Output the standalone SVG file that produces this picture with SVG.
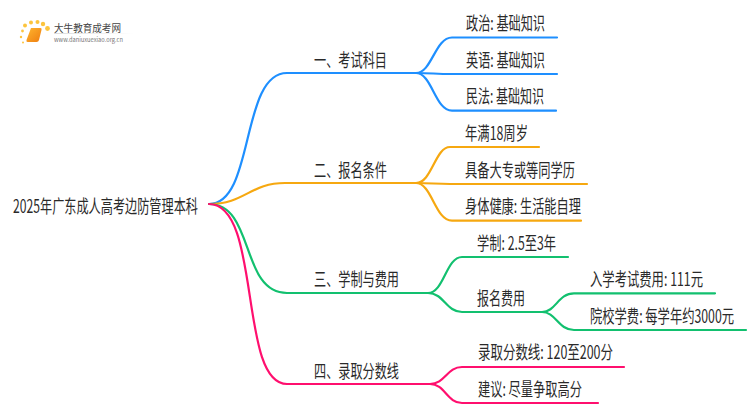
<svg xmlns="http://www.w3.org/2000/svg" width="750" height="410" viewBox="0 0 750 410">
<style>
text{font-family:"Noto Sans CJK SC","Noto Sans",sans-serif;font-size:18px;fill:#2a2a2a;}
.c{fill:none;stroke-width:2.2;stroke-linecap:round}
.b{stroke:#1e8fff}.o{stroke:#f6a810}.g{stroke:#12c06f}.p{stroke:#ff0f6e}
</style>
<defs><linearGradient id="bk" x1="0" y1="0" x2="1" y2="1"><stop offset="0" stop-color="#ffb52e"/><stop offset="1" stop-color="#ee7d10"/></linearGradient>
<linearGradient id="ul" x1="0" y1="0" x2="1" y2="0"><stop offset="0" stop-color="#ddd"/><stop offset="1" stop-color="#fff"/></linearGradient></defs>
<rect width="750" height="410" fill="#fff"/>
<g id="logo">
<g fill="#fcc43d"><circle cx="25" cy="25.500" r="2"/><circle cx="31" cy="22.500" r="2"/><circle cx="37.500" cy="22" r="2"/><circle cx="43" cy="24" r="2.200"/><circle cx="47.500" cy="28.500" r="2.400"/><circle cx="22.500" cy="31" r="1.400"/><circle cx="21" cy="37" r="1.200"/><circle cx="23" cy="42.500" r="1"/></g>
<path d="M31 28h9.500q1.500 0 1 2l-2.500 10q-.5 2-2.500 2h-9q-1.500 0-1-2z" fill="url(#bk)"/>
<text x="54" y="31.500" textLength="67" lengthAdjust="spacingAndGlyphs" style="font-size:10px;fill:#444">大牛教育成考网</text>
<rect x="54" y="33" width="80" height="1" fill="url(#ul)"/>
<text x="54" y="41.500" textLength="69" lengthAdjust="spacingAndGlyphs" style="font-size:6px;fill:#777">www.daniuxuexiao.org.cn</text>
</g>
<g id="connectors">
<path class="c b" d="M209 204C255 204 240 73 287 73H416"/>
<path class="c b" d="M416 73C432 73 435 37.500 452 37.500H557"/>
<path class="c b" d="M416 73C432 73 435 74 452 74H557"/>
<path class="c b" d="M416 73C432 73 435 110.700 452 110.700H556"/>
<path class="c o" d="M209 204C245 204 250 183 285 183H416"/>
<path class="c o" d="M416 183C432 183 435 147 450 147H539"/>
<path class="c o" d="M416 183C432 183 435 184 450 184H587"/>
<path class="c o" d="M416 183C432 183 435 220.700 452 220.700H581"/>
<path class="c g" d="M209 204C255 204 240 293 287 293H428"/>
<path class="c g" d="M428 293C444 293 446 257 462 257H568"/>
<path class="c g" d="M428 293C444 293 446 312 462 312H542"/>
<path class="c g" d="M542 312C556 312 558 293.300 574 293.300H715"/>
<path class="c g" d="M542 312C556 312 558 330 574 330H746"/>
<path class="c p" d="M209 204C262 204 238 384 287 384H430"/>
<path class="c p" d="M430 384C445 384 447 367 462 367H624"/>
<path class="c p" d="M430 384C445 384 447 403 462 403H598"/>
</g>
<g id="root"><text x="13" y="213" textLength="185" lengthAdjust="spacingAndGlyphs">2025年广东成人高考边防管理本科</text></g>
<g id="n1"><text x="314" y="66.500" textLength="73" lengthAdjust="spacingAndGlyphs">一、考试科目</text></g>
<g id="n1a"><text x="466" y="30" textLength="79" lengthAdjust="spacingAndGlyphs">政治: 基础知识</text></g>
<g id="n1b"><text x="466" y="66.500" textLength="79" lengthAdjust="spacingAndGlyphs">英语: 基础知识</text></g>
<g id="n1c"><text x="466" y="103" textLength="78" lengthAdjust="spacingAndGlyphs">民法: 基础知识</text></g>
<g id="n2"><text x="314" y="176.500" textLength="73" lengthAdjust="spacingAndGlyphs">二、报名条件</text></g>
<g id="n2a"><text x="465" y="139.500" textLength="63" lengthAdjust="spacingAndGlyphs">年满18周岁</text></g>
<g id="n2b"><text x="465" y="176.500" textLength="110" lengthAdjust="spacingAndGlyphs">具备大专或等同学历</text></g>
<g id="n2c"><text x="465" y="212.500" textLength="116" lengthAdjust="spacingAndGlyphs">身体健康: 生活能自理</text></g>
<g id="n3"><text x="314" y="285.500" textLength="85" lengthAdjust="spacingAndGlyphs">三、学制与费用</text></g>
<g id="n3a"><text x="477" y="249.500" textLength="79" lengthAdjust="spacingAndGlyphs">学制: 2.5至3年</text></g>
<g id="n3b"><text x="477" y="304.500" textLength="48" lengthAdjust="spacingAndGlyphs">报名费用</text></g>
<g id="n3b1"><text transform="translate(590 286) scale(.7 1)" textLength="161.400" lengthAdjust="spacingAndGlyphs">入学考试费用: 111元</text></g>
<g id="n3b2"><text transform="translate(590 323) scale(.68 1)" textLength="211.800" lengthAdjust="spacingAndGlyphs">院校学费: 每学年约3000元</text></g>
<g id="n4"><text x="314" y="377.500" textLength="85" lengthAdjust="spacingAndGlyphs">四、录取分数线</text></g>
<g id="n4a"><text x="478" y="358.500" textLength="135" lengthAdjust="spacingAndGlyphs">录取分数线: 120至200分</text></g>
<g id="n4b"><text x="478" y="395.500" textLength="104" lengthAdjust="spacingAndGlyphs">建议: 尽量争取高分</text></g>
</svg>
